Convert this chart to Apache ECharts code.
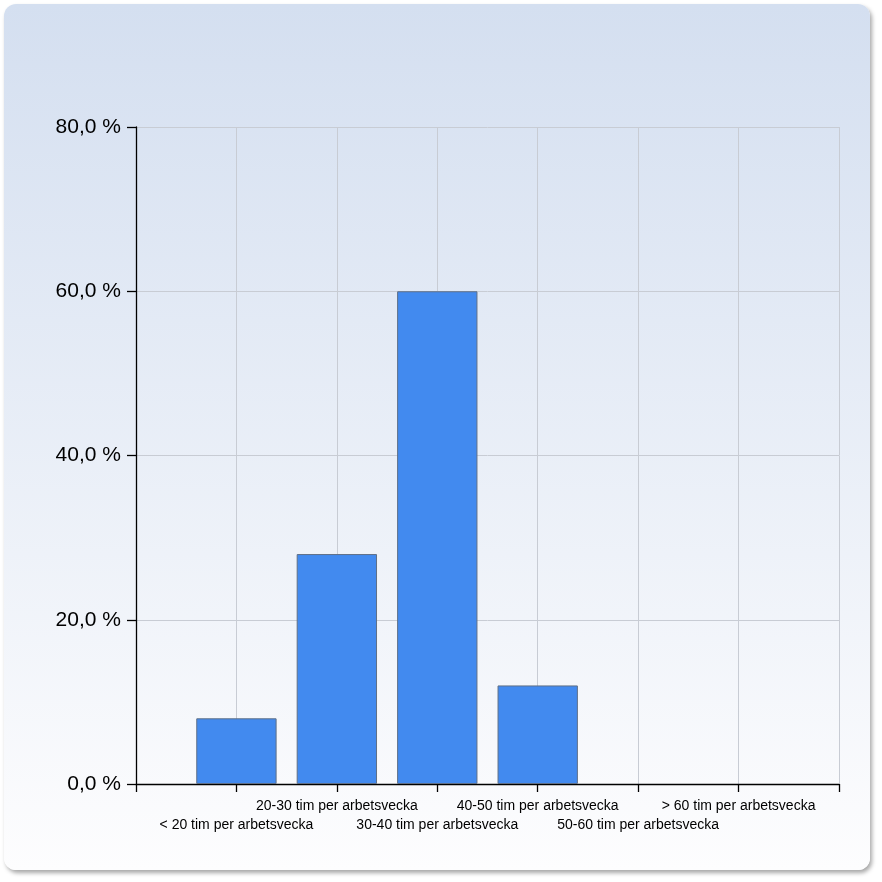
<!DOCTYPE html>
<html>
<head>
<meta charset="utf-8">
<script src="https://cdn.jsdelivr.net/npm/echarts@6/dist/echarts.min.js"></script>
<style>
  html, body { margin: 0; padding: 0; background: #ffffff; }
  #panel {
    position: absolute; left: 4px; top: 4px; width: 866px; height: 866px;
    border-radius: 12px;
    background: linear-gradient(to bottom, #d4dff0 0%, #fdfdfe 100%);
    box-shadow: 2px 3px 4px rgba(0, 0, 0, 0.35);
  }
  #chart { position: absolute; left: 0; top: 0; width: 882px; height: 882px; }
</style>
</head>
<body>
<div id="panel"></div>
<div id="chart"></div>
<script>
// categories (empty ends give the half-empty slots at both sides)
var categories = ['', '< 20 tim per arbetsvecka', '20-30 tim per arbetsvecka', '30-40 tim per arbetsvecka',
    '40-50 tim per arbetsvecka', '50-60 tim per arbetsvecka', '> 60 tim per arbetsvecka', ''];
var percentValues = [null, 8, 28, 60, 12, 0, 0, null];
var yTicks = [0, 20, 40, 60, 80];

var myChart = echarts.init(document.getElementById('chart'));

var option = {
    backgroundColor: 'transparent',
    animation: false,
    grid: { left: 136, right: 43, top: 127, bottom: 98 },
    xAxis: {
        type: 'category',
        data: categories,
        boundaryGap: false,
        axisLine: { lineStyle: { color: '#000', width: 1.3 } },
        axisTick: { show: true, length: 8, interval: 0, lineStyle: { color: '#000', width: 1.3 } },
        axisLabel: {
            interval: 0,
            margin: 13,
            fontFamily: 'Liberation Sans, Arial, sans-serif',
            fontSize: 14,
            lineHeight: 19,
            color: '#000',
            formatter: function (value, index) {
                if (!value) return '';
                return index % 2 === 1 ? '\n' + value : value;
            }
        },
        splitLine: { show: true, interval: 0, lineStyle: { color: '#c8ccd4', width: 1 } }
    },
    yAxis: {
        type: 'value',
        min: yTicks[0],
        max: yTicks[yTicks.length - 1],
        interval: 20,
        axisLine: { show: true, lineStyle: { color: '#000', width: 1.3 } },
        axisTick: { show: true, length: 9, lineStyle: { color: '#000', width: 1.3 } },
        axisLabel: {
            margin: 15,
            fontFamily: 'Liberation Sans, Arial, sans-serif',
            fontSize: 21,
            color: '#000',
            formatter: function (value) {
                return value.toFixed(1).replace('.', ',') + ' %';
            }
        },
        splitLine: { show: true, lineStyle: { color: '#c8ccd4', width: 1 } }
    },
    series: [{
        type: 'bar',
        // zero bars get no border so they leave no line on the axis
        data: percentValues.map(function (v) {
            return v === 0 ? { value: 0, itemStyle: { borderWidth: 0, opacity: 0 } } : v;
        }),
        barWidth: '80%',
        itemStyle: { color: '#428aef', borderColor: '#5f6f86', borderWidth: 1 }
    }]
};

myChart.setOption(option);
</script>
</body>
</html>
